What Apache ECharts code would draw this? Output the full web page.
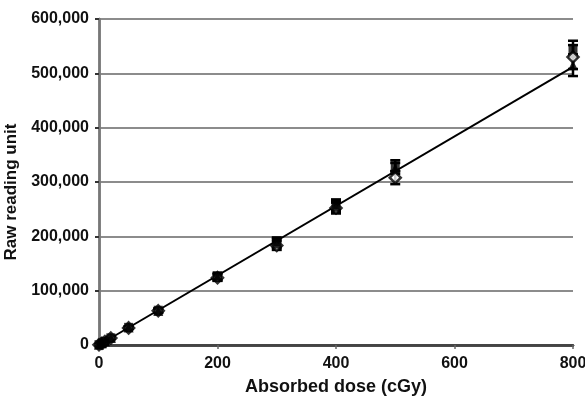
<!DOCTYPE html>
<html><head><meta charset="utf-8">
<script src="https://cdn.jsdelivr.net/npm/echarts@6/dist/echarts.min.js"></script>
<style>html,body{margin:0;padding:0;background:#fff}#c{width:585px;height:406px}</style>
</head><body><div id="c"></div>
<script>
// Data
var doses = [0, 5, 10, 20, 50, 100, 200, 300, 400, 500, 800];
var seriesDiamond = [500, 3100, 6300, 12800, 31500, 63000, 124000, 183000, 252000, 308000, 530000];
var seriesSquare = [600, 3300, 6500, 13200, 32500, 64000, 127000, 190000, 258000, 330000, 545000];
var seriesTriangle = [550, 3200, 6400, 13000, 32000, 62500, 125000, 187000, 255000, 325000, 515000];
var errDiamond = [300, 400, 500, 800, 2000, 3500, 6000, 8000, 10000, 12000, 22000];
var errSquare = [300, 400, 500, 800, 2000, 3500, 6000, 8000, 10000, 10000, 15000];
var errTriangle = [300, 400, 500, 800, 2000, 3500, 6000, 8000, 10000, 10000, 20000];
var fitX = [0, 800];
var fitY = [0, 512000];
var yTicks = [0, 100000, 200000, 300000, 400000, 500000, 600000];
var xTicks = [0, 200, 400, 600, 800];

function pts(xs, ys){ return xs.map(function(x,i){return [x, ys[i]];}); }
function errPts(xs, ys, es){ return xs.map(function(x,i){return [x, ys[i]-es[i], ys[i]+es[i]];}); }
function errSeries(d){
  return {
    type:'custom', data:d, z:3, silent:true,
    renderItem:function(params, api){
      var lo = api.coord([api.value(0), api.value(1)]);
      var hi = api.coord([api.value(0), api.value(2)]);
      var w = 5;
      var st = {stroke:'#000', lineWidth:2.5};
      return {type:'group', children:[
        {type:'line', shape:{x1:lo[0],y1:lo[1],x2:hi[0],y2:hi[1]}, style:st},
        {type:'line', shape:{x1:lo[0]-w,y1:lo[1],x2:lo[0]+w,y2:lo[1]}, style:st},
        {type:'line', shape:{x1:hi[0]-w,y1:hi[1],x2:hi[0]+w,y2:hi[1]}, style:st}
      ]};
    }
  };
}
var chart = echarts.init(document.getElementById('c'), null, {renderer:'canvas'});
var lab = {fontFamily:'Liberation Sans', fontSize:16, fontWeight:'bold', color:'#111'};
chart.setOption({
  animation:false,
  grid:{left:99, right:12, top:19, bottom:61, containLabel:false, outerBoundsMode:'none'},
  xAxis:[{
    type:'value', min:0, max:800, interval:200, position:'bottom',
    axisLine:{show:true, onZero:false, lineStyle:{color:'#333', width:2.5}},
    axisTick:{show:true, length:4, lineStyle:{color:'#666', width:1.5}},
    axisLabel:Object.assign({margin:11, formatter:function(v){return xTicks.indexOf(v)>=0?String(v):'';}}, lab),
    splitLine:{show:false},
    name:'Absorbed dose (cGy)', nameLocation:'middle', nameGap:33,
    nameTextStyle:{fontFamily:'Liberation Sans', fontSize:18, fontWeight:'bold', color:'#111'}
  },{
    type:'value', min:0, max:800, position:'top',
    axisLine:{show:true, lineStyle:{color:'#444', width:2.5}},
    axisTick:{show:false}, axisLabel:{show:false}, splitLine:{show:false}
  }],
  yAxis:[{
    type:'value', min:0, max:600000, interval:100000,
    axisLine:{show:true, lineStyle:{color:'#888', width:2.5}},
    axisTick:{show:true, length:4, lineStyle:{color:'#333', width:2}},
    axisLabel:Object.assign({margin:10, formatter:function(v){return yTicks.indexOf(v)>=0?v.toLocaleString('en-US'):'';}}, lab),
    splitLine:{show:true, lineStyle:{color:'#8c8c8c', width:2}},
    name:'Raw reading unit', nameLocation:'middle', nameGap:73,
    nameTextStyle:{fontFamily:'Liberation Sans', fontSize:17, fontWeight:'bold', color:'#111', padding:[0,0,0,-20]}
  },{
    type:'value', min:0, max:600000, position:'right',
    axisLine:{show:true, lineStyle:{color:'#777', width:2.5}},
    axisTick:{show:false}, axisLabel:{show:false}, splitLine:{show:false}
  }],
  series:[
    {type:'line', data:pts(fitX, fitY), symbol:'none', z:4, lineStyle:{color:'#000', width:2}},
    errSeries(errPts(doses, seriesDiamond, errDiamond)),
    errSeries(errPts(doses, seriesSquare, errSquare)),
    errSeries(errPts(doses, seriesTriangle, errTriangle)),
    {type:'scatter', data:pts(doses, seriesDiamond), symbol:'diamond', symbolSize:11, z:5, itemStyle:{color:'#fff', borderColor:'#000', borderWidth:2.5}},
    {type:'scatter', data:pts(doses, seriesSquare), symbol:'rect', symbolSize:9, z:5, itemStyle:{color:'#000'}},
    {type:'scatter', data:pts(doses, seriesTriangle), symbol:'triangle', symbolSize:10, z:5, itemStyle:{color:'#000'}}
  ]
});
</script></body></html>
